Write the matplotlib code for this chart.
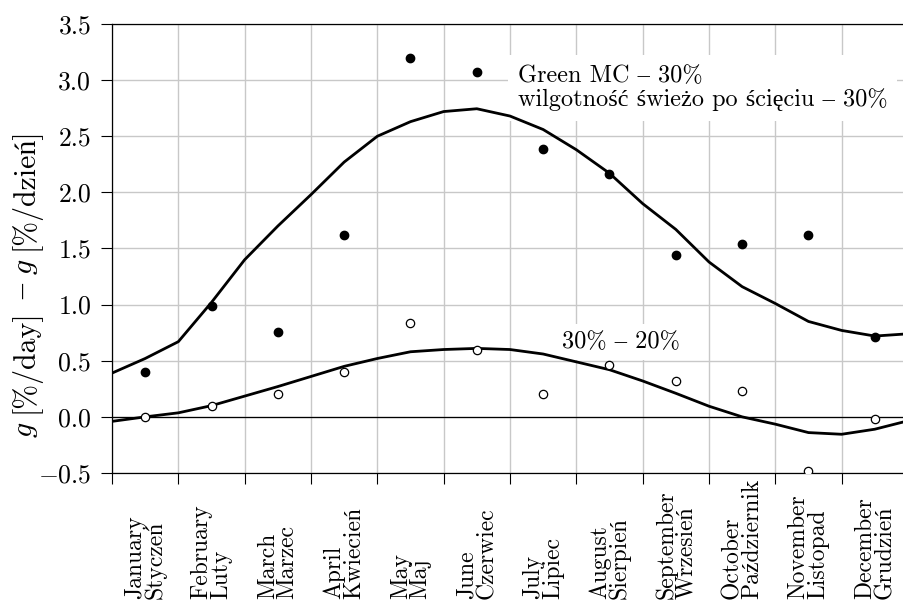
import numpy as np
from matplotlib import pyplot as plt

serif = ['cmr10', 'Liberation Serif']
plt.rcParams['font.family'] = serif
plt.rcParams['mathtext.fontset'] = 'cm'
plt.rcParams['axes.formatter.use_mathtext'] = True

monthLabels = ['January\nStyczeń', 'February\nLuty', 'March\nMarzec', 'April\nKwiecień',
               'May\nMaj', 'June\nCzerwiec', 'July\nLipiec', 'August\nSierpień',
               'September\nWrzesień', 'October\nPaździernik', 'November\nListopad',
               'December\nGrudzień']
monthCenters = np.arange(12) + 0.5

greenMC = [0.40, 0.99, 0.76, 1.62, 3.20, 3.07, 2.39, 2.16, 1.44, 1.54, 1.62, 0.71]
mc30_20 = [0.00, 0.10, 0.20, 0.40, 0.84, 0.60, 0.20, 0.46, 0.32, 0.23, -0.48, -0.02]

curveX = np.arange(0, 12.5, 0.5)
greenCurve = [0.39, 0.52, 0.67, 1.02, 1.40, 1.70, 1.98, 2.27, 2.50, 2.63, 2.72, 2.745,
              2.68, 2.56, 2.38, 2.17, 1.90, 1.67, 1.38, 1.16, 1.01, 0.85, 0.77, 0.72, 0.74]
lowCurve = [-0.04, 0.00, 0.036, 0.10, 0.185, 0.27, 0.36, 0.45, 0.52, 0.58, 0.60, 0.61,
            0.60, 0.56, 0.49, 0.42, 0.32, 0.21, 0.095, 0.0, -0.065, -0.14, -0.155, -0.11, -0.035]

# y label pieces: italic g from cmmi10, the rest upright
labelParts = [('g', 'cmmi10'), ('[%/day]', serif), ('–', serif), ('g', 'cmmi10'), ('[%/dzień]', serif)]

fig = plt.figure(figsize=(9.04, 6.03), dpi=100)
ax = fig.add_axes([0.1239, 0.2156, 0.8805, 0.7446])

ax.set_xlim(0, 12)
ax.set_ylim(-0.5, 3.5)
ax.set_xticks(np.arange(13))
ax.set_xticklabels([])
ax.set_xticks(monthCenters, minor=True)
ax.set_xticklabels(monthLabels, minor=True, rotation=90, va='bottom', ha='center',
                   ma='left', linespacing=0.85, fontsize=17)
ax.tick_params(axis='x', which='minor', length=0, pad=91)
ax.tick_params(axis='x', which='major', length=8, width=0.8, direction='out')
yt = np.arange(-0.5, 3.6, 0.5)
ax.set_yticks(yt)
ax.set_yticklabels(['$-$0.5' if v < 0 else '%.1f' % v for v in yt])
ax.tick_params(axis='y', length=8, width=0.8, labelsize=18.5, pad=7)

ax.grid(True, which='major', color='#c8c8c8', lw=1.0)
ax.set_axisbelow(True)
ax.axhline(0, color='k', lw=0.9)
for s in ['left', 'top', 'bottom']:
    ax.spines[s].set_linewidth(0.9)
ax.spines['right'].set_visible(False)

ax.plot(curveX, greenCurve, color='k', lw=2.0)
ax.plot(curveX, lowCurve, color='k', lw=2.0)
ax.plot(monthCenters, greenMC, 'o', color='k', ms=6, zorder=5)
ax.plot(monthCenters, mc30_20, 'o', mfc='white', mec='k', mew=0.9, ms=6, zorder=5)

# labels sit on white boxes above the grid but under the curves
ax.text(6.12, 2.93, 'Green MC – 30%\nwilgotność świeżo po ścięciu – 30%', fontsize=17.5,
        va='center', ha='left', linespacing=1.05, zorder=1.5,
        bbox=dict(facecolor='white', edgecolor='none', pad=7))
ax.text(6.78, 0.67, '30% – 20%', fontsize=17.5, va='center', ha='left', zorder=1.5,
        bbox=dict(facecolor='white', edgecolor='none', pad=5))

# vertical label built piece by piece, going upward
fig.canvas.draw()
renderer = fig.canvas.get_renderer()
labelSize = 21.5
gap = 0.333 * labelSize * 100 / 72
ypos = 166.0
for txt, fam in labelParts:
    t = fig.text(32 / 904, ypos / 603, txt, rotation=90, rotation_mode='anchor',
                 ha='left', va='baseline', fontsize=labelSize, family=fam)
    ypos = t.get_window_extent(renderer).y1 + gap

fig.savefig('out.png', dpi=100)
